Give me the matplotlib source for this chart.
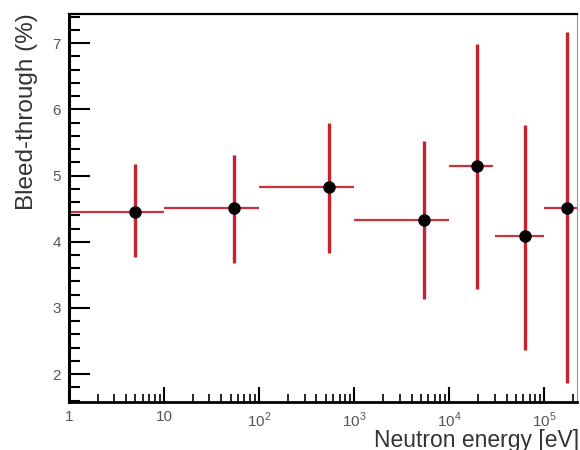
import matplotlib
matplotlib.use("Agg")
import matplotlib.pyplot as plt
from matplotlib.ticker import FixedLocator, FuncFormatter, MultipleLocator, LogLocator, NullFormatter

plt.rcParams['font.family'] = ['Liberation Sans', 'DejaVu Sans']
plt.rcParams['mathtext.fontset'] = 'custom'
plt.rcParams['mathtext.rm'] = 'Liberation Sans'

# Data
energy = [5.0, 54.0, 540.0, 5400.0, 19500.0, 63000.0, 174000.0]
bin_lo = [1.0, 10.0, 100.0, 1000.0, 10000.0, 30000.0, 100000.0]
bin_hi = [10.0, 100.0, 1000.0, 10000.0, 29000.0, 100000.0, 300000.0]
bleed = [4.45, 4.51, 4.83, 4.33, 5.14, 4.09, 4.51]
err_up = [5.17, 5.31, 5.79, 5.52, 6.98, 5.76, 7.17]
err_lo = [3.77, 3.68, 3.83, 3.14, 3.29, 2.37, 1.86]
x_ticks = [1, 10, 100, 1000, 10000, 100000]
x_tick_labels = ['1', '10', r'$10^{2}$', r'$10^{3}$', r'$10^{4}$', r'$10^{5}$']
y_ticks = [2, 3, 4, 5, 6, 7]

fig = plt.figure(figsize=(5.8, 4.5), dpi=100)
ax = fig.add_axes([69/580, 1-402/450, (577-69)/580, (402-14)/450])

xerr = [[e - lo for e, lo in zip(energy, bin_lo)], [hi - e for e, hi in zip(energy, bin_hi)]]
yerr = [[b - l for b, l in zip(bleed, err_lo)], [u - b for b, u in zip(bleed, err_up)]]
ax.errorbar(energy, bleed, xerr=xerr, yerr=None, fmt='none', ecolor='#d0303a', elinewidth=1.6, capsize=0, zorder=2)
ax.errorbar(energy, bleed, xerr=None, yerr=yerr, fmt='none', ecolor='#c8202c', elinewidth=2.4, capsize=0, zorder=2)
ax.plot(energy, bleed, 'o', color='black', markersize=8, zorder=3)

ax.set_xscale('log')
ax.set_xlim(1, 2.2e5)
ax.set_ylim(1.58, 7.44)

ax.xaxis.set_major_locator(FixedLocator(x_ticks))
ax.xaxis.set_major_formatter(FuncFormatter(lambda v, p: x_tick_labels[x_ticks.index(round(v))] if round(v) in x_ticks else ''))
ax.xaxis.set_minor_locator(LogLocator(base=10, subs=range(2, 10), numticks=20))
ax.xaxis.set_minor_formatter(NullFormatter())
ax.yaxis.set_major_locator(FixedLocator(y_ticks))
ax.yaxis.set_minor_locator(MultipleLocator(0.2))

ax.tick_params(axis='both', which='both', direction='in', top=False, right=False, colors='black', labelcolor='#555555', labelsize=11)
ax.tick_params(axis='x', which='major', length=11, width=1.5, pad=6)
ax.tick_params(axis='x', which='minor', length=6, width=1.2)
ax.tick_params(axis='y', which='major', length=15, width=1.5, pad=6)
ax.tick_params(axis='y', which='minor', length=8, width=1.5)

ax.spines['left'].set_linewidth(2.2)
ax.spines['bottom'].set_linewidth(2.0)
ax.spines['top'].set_linewidth(1.6)
ax.spines['right'].set_linewidth(0.8)
ax.spines['right'].set_color('#999999')

fig.text(579/580, 1-440/450, 'Neutron energy [eV]', fontsize=16.5, color='#333333', ha='right', va='center')
fig.text(27/580, 1-13/450, 'Bleed-through (%)', fontsize=17.5, color='#333333', ha='center', va='top', rotation=90)

fig.savefig('out.png', dpi=100)
